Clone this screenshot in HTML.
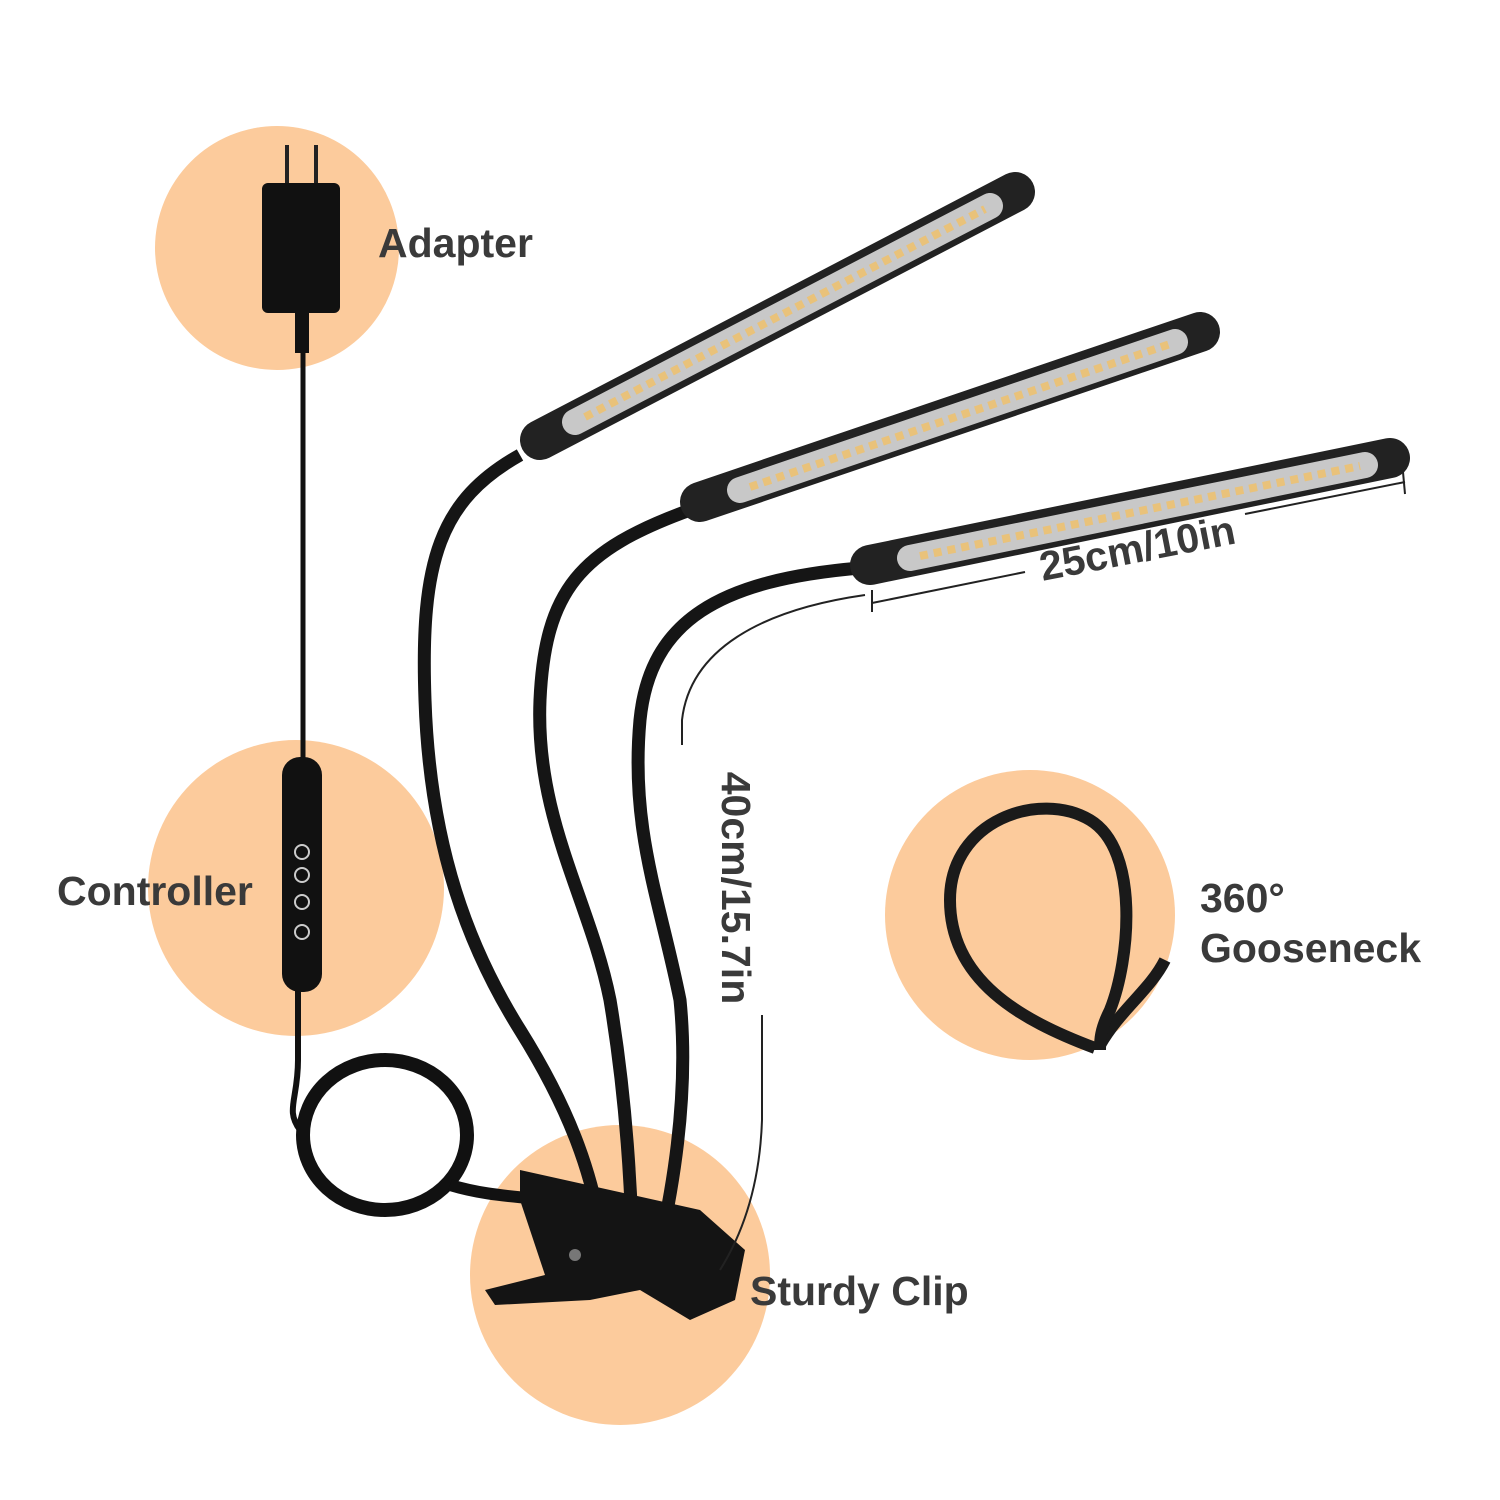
<!DOCTYPE html>
<html><head><meta charset="utf-8"><style>
html,body{margin:0;padding:0;background:#fff;}
svg{display:block}
text{font-family:"Liberation Sans",sans-serif;font-weight:bold;fill:#3a3a3a;}
</style></head><body>
<svg width="1500" height="1500" viewBox="0 0 1500 1500" xmlns="http://www.w3.org/2000/svg">
<g fill="#fccb9c">
<circle cx="277" cy="248" r="122"/>
<circle cx="296" cy="888" r="148"/>
<circle cx="620" cy="1275" r="150"/>
<circle cx="1030" cy="915" r="145"/>
</g>
<path d="M1100 1045 C1120 1010 1150 990 1165 960" stroke="#1a1a1a" stroke-width="12" fill="none"/>
<path d="M1095 1048 C1020 1020 950 980 950 900 C950 820 1040 790 1090 820 C1140 850 1130 960 1110 1010 C1100 1030 1100 1040 1100 1050" stroke="#1a1a1a" stroke-width="12" fill="none"/>
<rect x="285" y="145" width="4" height="45" fill="#222"/>
<rect x="314" y="145" width="4" height="45" fill="#222"/>
<rect x="262" y="183" width="78" height="130" rx="6" fill="#111"/>
<rect x="295" y="313" width="14" height="40" fill="#111"/>
<path d="M303 350 L303 760" stroke="#111" stroke-width="5" fill="none"/>
<path d="M298 990 L298 1060 C298 1100 285 1110 300 1130" stroke="#111" stroke-width="6" fill="none"/>
<ellipse cx="385" cy="1135" rx="82" ry="75" stroke="#111" stroke-width="14" fill="none"/>
<path d="M450 1185 C500 1200 540 1195 560 1205" stroke="#111" stroke-width="12" fill="none"/>
<rect x="282" y="757" width="40" height="235" rx="18" fill="#111"/>
<g fill="none" stroke="#ccc" stroke-width="2">
<circle cx="302" cy="852" r="7"/><circle cx="302" cy="875" r="7"/><circle cx="302" cy="902" r="7"/><circle cx="302" cy="932" r="7"/>
</g>
<g stroke="#151515" stroke-width="13" fill="none">
<path d="M520 455 C440 500 420 560 425 700 C430 850 470 950 520 1030 C570 1110 590 1170 600 1225"/>
<path d="M690 510 C580 550 545 590 540 700 C535 820 590 900 610 1000 C625 1090 630 1170 632 1230"/>
<path d="M860 568 C720 580 650 620 640 720 C630 830 660 900 680 1000 C690 1100 670 1200 660 1245"/>
</g>
<path d="M520 1170 L610 1190 L700 1210 L745 1250 L735 1300 L690 1320 L640 1290 L590 1300 L495 1305 L485 1290 L545 1275 L520 1200 Z" fill="#141414"/>
<circle cx="575" cy="1255" r="6" fill="#777"/>
<g stroke-linecap="round">
<line x1="540" y1="440" x2="1015" y2="192" stroke="#222" stroke-width="40"/>
<line x1="575" y1="422" x2="990" y2="206" stroke="#c8c8c8" stroke-width="26"/>
<line x1="700" y1="502" x2="1200" y2="332" stroke="#222" stroke-width="40"/>
<line x1="740" y1="490" x2="1175" y2="342" stroke="#c8c8c8" stroke-width="26"/>
<line x1="870" y1="565" x2="1390" y2="458" stroke="#222" stroke-width="40"/>
<line x1="910" y1="558" x2="1365" y2="465" stroke="#c8c8c8" stroke-width="26"/>
</g>
<g stroke-dasharray="8 6" stroke-width="8">
<line x1="585" y1="417" x2="985" y2="209" stroke="#e9c27a"/>
<line x1="750" y1="487" x2="1170" y2="344" stroke="#e9c27a"/>
<line x1="920" y1="556" x2="1360" y2="466" stroke="#e9c27a"/>
</g>
<g stroke="#222" stroke-width="2" fill="none">
<line x1="872" y1="603" x2="1025" y2="572"/>
<line x1="1245" y1="514" x2="1405" y2="482"/>
<line x1="872" y1="590" x2="872" y2="612"/>
<line x1="1403" y1="472" x2="1405" y2="494"/>
<path d="M865 595 C760 610 690 650 682 720 L682 745"/>
<path d="M762 1015 L762 1120 C760 1180 745 1230 720 1270"/>
</g>
<text x="378" y="257" font-size="41">Adapter</text>
<text x="57" y="905" font-size="41">Controller</text>
<text x="750" y="1305" font-size="41">Sturdy Clip</text>
<text x="1200" y="912" font-size="41">360°</text>
<text x="1200" y="962" font-size="41">Gooseneck</text>
<text x="1140" y="562" font-size="41" text-anchor="middle" transform="rotate(-11 1140 562)">25cm/10in</text>
<text x="722" y="888" font-size="41" text-anchor="middle" transform="rotate(90 722 888)">40cm/15.7in</text>
</svg>
</body></html>
